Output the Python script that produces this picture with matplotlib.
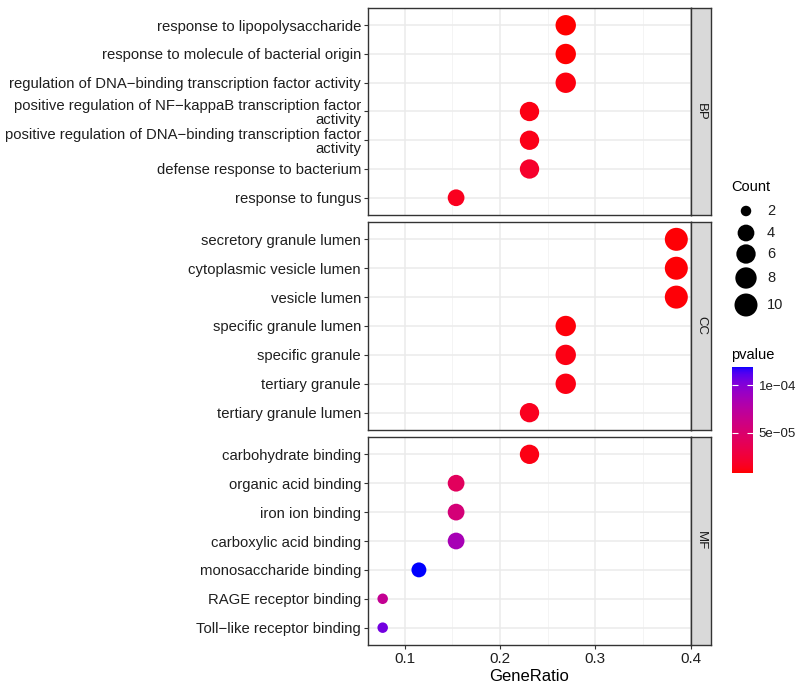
import numpy as np
import matplotlib
matplotlib.use("Agg")
import matplotlib.pyplot as plt
from matplotlib.colors import ListedColormap, Normalize

plt.rcParams["font.family"] = ["Liberation Sans", "DejaVu Sans"]

# ---- data (top to bottom within each facet) ----
bp_terms = ["response to lipopolysaccharide",
            "response to molecule of bacterial origin",
            "regulation of DNA\u2212binding transcription factor activity",
            "positive regulation of NF\u2212kappaB transcription factor\nactivity",
            "positive regulation of DNA\u2212binding transcription factor\nactivity",
            "defense response to bacterium",
            "response to fungus"]
bp_ratio = [0.269, 0.269, 0.269, 0.231, 0.231, 0.231, 0.154]
bp_count = [7, 7, 7, 6, 6, 6, 4]
bp_pvalue = [8.0e-6, 8.5e-6, 1.1e-5, 1.2e-5, 1.3e-5, 2.0e-5, 1.5e-5]

cc_terms = ["secretory granule lumen", "cytoplasmic vesicle lumen", "vesicle lumen",
            "specific granule lumen", "specific granule", "tertiary granule",
            "tertiary granule lumen"]
cc_ratio = [0.385, 0.385, 0.385, 0.269, 0.269, 0.269, 0.231]
cc_count = [10, 10, 10, 7, 7, 7, 6]
cc_pvalue = [9.0e-6, 9.0e-6, 9.5e-6, 1.0e-5, 1.2e-5, 1.2e-5, 1.5e-5]

mf_terms = ["carbohydrate binding", "organic acid binding", "iron ion binding",
            "carboxylic acid binding", "monosaccharide binding",
            "RAGE receptor binding", "Toll\u2212like receptor binding"]
mf_ratio = [0.231, 0.154, 0.154, 0.154, 0.115, 0.077, 0.077]
mf_count = [6, 4, 4, 4, 3, 2, 2]
mf_pvalue = [1.2e-5, 4.2e-5, 5.5e-5, 8.5e-5, 1.19e-4, 6.8e-5, 1.05e-4]

facets = ["BP", "CC", "MF"]
legend_counts = [2, 4, 6, 8, 10]
pvalue_ticks = [5e-05, 1e-04]
pvalue_ticklabels = ["5e\u221205", "1e\u221204"]


# ---- red -> blue gradient interpolated in CIELAB (like ggplot) ----
def srgb_to_lab(rgb):
    c = np.asarray(rgb, float)
    lin = np.where(c <= 0.04045, c / 12.92, ((c + 0.055) / 1.055) ** 2.4)
    m = np.array([[0.4124, 0.3576, 0.1805], [0.2126, 0.7152, 0.0722], [0.0193, 0.1192, 0.9505]])
    xyz = m @ lin / np.array([0.95047, 1.0, 1.08883])
    f = np.where(xyz > 0.008856, np.cbrt(xyz), 7.787 * xyz + 16 / 116)
    return np.array([116 * f[1] - 16, 500 * (f[0] - f[1]), 200 * (f[1] - f[2])])


def lab_to_srgb(lab):
    L, a, b = lab
    fy = (L + 16) / 116
    f = np.array([fy + a / 500, fy, fy - b / 200])
    xyz = np.where(f ** 3 > 0.008856, f ** 3, (f - 16 / 116) / 7.787) * np.array([0.95047, 1.0, 1.08883])
    m = np.array([[3.2406, -1.5372, -0.4986], [-0.9689, 1.8758, 0.0415], [0.0557, -0.2040, 1.0570]])
    lin = np.clip(m @ xyz, 0, 1)
    return np.clip(np.where(lin <= 0.0031308, 12.92 * lin, 1.055 * lin ** (1 / 2.4) - 0.055), 0, 1)


lab_lo, lab_hi = srgb_to_lab([1, 0, 0]), srgb_to_lab([0, 0, 1])
cmap = ListedColormap([lab_to_srgb(lab_lo + t * (lab_hi - lab_lo)) for t in np.linspace(0, 1, 256)])

all_p = bp_pvalue + cc_pvalue + mf_pvalue
norm = Normalize(vmin=min(all_p), vmax=max(all_p))
all_r = bp_ratio + cc_ratio + mf_ratio
lo, hi = min(all_r), max(all_r)
xpad = 0.05 * (hi - lo)


def size_of(c):
    d = 10.5 + 12.5 * np.sqrt((np.asarray(c, float) - 2) / 8)  # diameter in px
    return (d * 0.72) ** 2


fig = plt.figure(figsize=(8, 6.85), dpi=100)
W, H = 800, 685
panels = [(8, 215), (222, 430), (437, 645)]
data = [(bp_terms, bp_ratio, bp_count, bp_pvalue),
        (cc_terms, cc_ratio, cc_count, cc_pvalue),
        (mf_terms, mf_ratio, mf_count, mf_pvalue)]
grey20 = "#333333"
txt = "#1F1F1F"

for i, ((top, bot), (terms, ratio, count, pv)) in enumerate(zip(panels, data)):
    ax = fig.add_axes([368 / W, 1 - bot / H, (691 - 368) / W, (bot - top) / H])
    n = len(terms)
    y = np.arange(n)[::-1]
    ax.scatter(ratio, y, s=size_of(count), c=pv, cmap=cmap, norm=norm,
               linewidths=0, zorder=3)
    ax.set_xlim(lo - xpad, hi + xpad)
    ax.set_ylim(-0.6, n - 0.4)
    ax.set_yticks(y)
    ax.set_yticklabels(terms, fontsize=10.7, color=txt, linespacing=1.0)
    ax.set_xticks([0.1, 0.2, 0.3, 0.4])
    ax.set_xticks([0.15, 0.25, 0.35], minor=True)
    ax.grid(which="major", color="#EBEBEB", linewidth=1.1, zorder=0)
    ax.grid(which="minor", axis="x", color="#F2F2F2", linewidth=0.6, zorder=0)
    ax.set_axisbelow(True)
    ax.tick_params(axis="both", which="major", length=3, width=0.8, color=grey20, pad=2)
    ax.tick_params(axis="x", which="minor", length=0)
    for sp in ax.spines.values():
        sp.set_color(grey20)
        sp.set_linewidth(1.0)
    if i < 2:
        ax.tick_params(axis="x", labelbottom=False, length=0)
    else:
        ax.set_xticklabels(["0.1", "0.2", "0.3", "0.4"], fontsize=11, color=txt)
        ax.set_xlabel("GeneRatio", fontsize=12, color="black", labelpad=2)

    # facet strip
    sax = fig.add_axes([691 / W, 1 - bot / H, 20 / W, (bot - top) / H])
    sax.set_facecolor("#D9D9D9")
    sax.set_xticks([])
    sax.set_yticks([])
    for sp in sax.spines.values():
        sp.set_color(grey20)
        sp.set_linewidth(1.0)
    sax.text(0.5, 0.5, facets[i], rotation=-90, ha="center", va="center",
             fontsize=9.5, color="#1A1A1A", transform=sax.transAxes)

# ---- Count legend ----
lax = fig.add_axes([0, 0, 1, 1])
lax.set_xlim(0, W)
lax.set_ylim(H, 0)
lax.axis("off")
lax.patch.set_visible(False)
lax.text(731, 187, "Count", fontsize=10.5, va="center", ha="left")
legend_y = [211, 233, 254, 278, 305]
lax.scatter([746] * len(legend_counts), legend_y, s=size_of(legend_counts), c="black", linewidths=0)
for yy, c in zip(legend_y, legend_counts):
    lax.text(767, yy, str(c), fontsize=10.5, va="center", ha="left", color=txt)
lax.text(731, 355, "pvalue", fontsize=10.5, va="center", ha="left")

# ---- pvalue colorbar ----
cax = fig.add_axes([732 / W, 1 - 473 / H, 21 / W, 106 / H])
sm = plt.cm.ScalarMappable(norm=norm, cmap=cmap)
cb = fig.colorbar(sm, cax=cax)
cb.outline.set_visible(False)
cb.set_ticks(pvalue_ticks)
cb.set_ticklabels(pvalue_ticklabels)
cax.yaxis.set_ticks_position("both")
cax.tick_params(axis="y", direction="in", length=4, width=0.8, color="white",
                labelcolor=txt, labelsize=9.5, pad=4)

fig.savefig("out.png", dpi=100)
